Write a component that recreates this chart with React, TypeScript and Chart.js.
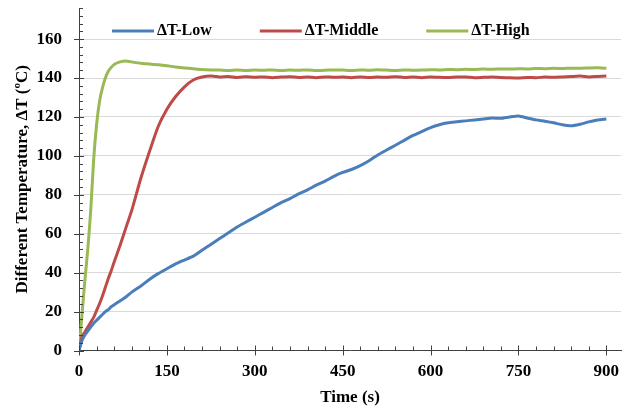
import { useEffect, useRef } from "react";
import { Chart, registerables } from "chart.js";

Chart.register(...registerables);

// ---- data ----
const TIMES = [
  0, 5, 10, 15, 20, 25, 30, 35, 40, 45, 50, 55, 60, 70, 80, 90,
  105, 120, 135, 150, 165, 180, 195, 210, 225, 240, 255, 270, 285, 300,
  315, 330, 345, 360, 375, 390, 405, 420, 435, 450, 465, 480, 495, 510,
  525, 540, 555, 570, 585, 600, 615, 630, 645, 660, 675, 690, 705, 720,
  735, 750, 765, 780, 795, 810, 825, 840, 855, 870, 885, 900,
];

const LOW = [
  0, 5, 8, 10, 12, 14, 15.5, 17, 18.5, 20, 21, 22.5, 23.5, 25.5, 27.5, 30,
  33, 36.5, 39.5, 42, 44.5, 46.5, 48.5, 51.5, 54.5, 57.5, 60.5, 63.5, 66, 68.5,
  71, 73.5, 76, 78, 80.5, 82.5, 85, 87, 89.5, 91.5, 93, 95, 97.5, 100.5,
  103, 105.5, 108, 110.5, 112.5, 114.5, 116, 117, 117.5, 118, 118.5, 119, 119.5, 119.3,
  120, 120.5, 119.5, 118.5, 117.8, 117, 116, 115.5, 116.3, 117.5, 118.5, 119,
];

const MIDDLE = [
  0, 7, 9.5, 12, 14.5, 17, 20.5, 24, 28, 32.5, 37, 41, 45.5, 54, 63, 72,
  88, 102, 115, 124, 130.5, 135.5, 139, 140.5, 141, 140.6, 140.8, 140.3, 140.7, 140.4,
  140.6, 140.2, 140.5, 140.7, 140.3, 140.5, 140.2, 140.6, 140.4, 140.5, 140.2, 140.6, 140.3, 140.5,
  140.4, 140.7, 140.3, 140.5, 140.2, 140.6, 140.4, 140.3, 140.6, 140.5, 140.2, 140.4, 140.6, 140.3,
  140.1, 140.0, 140.3, 140.2, 140.5, 140.4, 140.6, 140.8, 141, 140.6, 140.8, 141,
];

const HIGH = [
  0, 18, 36, 52, 72, 98, 116, 128, 135, 140, 143.5, 145.5, 147, 148.3, 148.8, 148.3,
  147.6, 147.2, 146.8, 146.3, 145.7, 145.2, 144.8, 144.4, 144.2, 144.1, 143.9, 144.2, 143.9, 144.1,
  144.0, 144.2, 143.9, 144.1, 144.0, 144.2, 143.9, 144.0, 144.2, 144.1, 143.9, 144.2, 144.0, 144.3,
  144.1, 143.9, 144.2, 144.0, 144.1, 144.3, 144.2, 144.4, 144.3, 144.5, 144.4, 144.6, 144.5, 144.7,
  144.6, 144.8, 144.7, 144.9, 144.8, 145.0, 144.9, 145.1, 145.0, 145.2, 145.3, 145.0,
];

const SERIES_LABELS = ["\u0394T-Low", "\u0394T-Middle", "\u0394T-High"];
const X_TICKS = [0, 150, 300, 450, 600, 750, 900];
const Y_TICKS = [0, 20, 40, 60, 80, 100, 120, 140, 160];
const X_TITLE = "Time (s)";
const Y_TITLE = "Different Temperature, \u0394T (\u00BAC)";

// ---- styles ----
const COLORS = ["#4a7ebb", "#be4b48", "#98b954"];
const FONT_FAMILY = "'Liberation Serif', 'Times New Roman', serif";
const AXIS_COLOR = "#404040";

const axisTicksPlugin = {
  id: "axisTicks",
  afterDatasetsDraw(chart: any) {
    const { ctx, chartArea, scales } = chart;
    const x = scales.x;
    const y = scales.y;
    ctx.save();
    ctx.strokeStyle = AXIS_COLOR;
    ctx.lineWidth = 1;
    ctx.beginPath();
    for (let v = 0; v <= x.max + 0.001; v += 30) {
      const px = Math.round(x.getPixelForValue(v)) + 0.5;
      const major = v % 150 === 0;
      ctx.moveTo(px, chartArea.bottom + (major ? 5 : 0));
      ctx.lineTo(px, chartArea.bottom - (major ? 5 : 4));
    }
    for (let v = 0; v <= y.max + 0.001; v += 4) {
      const py = Math.round(y.getPixelForValue(v)) + 0.5;
      const major = v % 20 === 0;
      ctx.moveTo(chartArea.left - (major ? 5 : 0), py);
      ctx.lineTo(chartArea.left + (major ? 5 : 4), py);
    }
    ctx.stroke();
    ctx.restore();
  },
};

const insideLegendPlugin = {
  id: "insideLegend",
  afterDraw(chart: any) {
    const { ctx, chartArea } = chart;
    ctx.save();
    ctx.font = `bold 16px ${FONT_FAMILY}`;
    ctx.textBaseline = "middle";
    ctx.textAlign = "left";
    const yMid = chartArea.top + 23;
    let cx = chartArea.left + 33;
    chart.data.datasets.forEach((ds: any) => {
      ctx.strokeStyle = ds.borderColor;
      ctx.lineWidth = 3;
      ctx.beginPath();
      ctx.moveTo(cx, yMid);
      ctx.lineTo(cx + 42, yMid);
      ctx.stroke();
      ctx.fillStyle = "#000";
      ctx.fillText(ds.label, cx + 45, yMid);
      cx += 45 + ctx.measureText(ds.label).width + 48;
    });
    ctx.restore();
  },
};

const zeroPadding = (s: any) => {
  s.paddingTop = 0;
  s.paddingBottom = 0;
  s.paddingLeft = 0;
  s.paddingRight = 0;
};

export default function App() {
  const canvasRef = useRef<HTMLCanvasElement | null>(null);

  useEffect(() => {
    document.body.style.margin = "0";
    const canvas = canvasRef.current;
    if (!canvas) return;
    const seriesValues = [LOW, MIDDLE, HIGH];
    const chart = new Chart(canvas, {
      type: "line",
      data: {
        datasets: seriesValues.map((vals, i) => ({
          label: SERIES_LABELS[i],
          data: TIMES.map((t, j) => ({ x: t, y: vals[j] })),
          borderColor: COLORS[i],
          backgroundColor: COLORS[i],
          borderWidth: 3,
          pointRadius: 0,
          tension: 0.2,
          fill: false,
        })),
      },
      options: {
        animation: false,
        responsive: true,
        maintainAspectRatio: false,
        layout: { padding: { top: 8, right: 2, bottom: 0, left: 0 } },
        plugins: {
          legend: { display: false },
          tooltip: { enabled: false },
        },
        scales: {
          x: {
            type: "linear",
            min: 0,
            max: 925,
            afterBuildTicks: (s: any) => {
              s.ticks = X_TICKS.map((v) => ({ value: v }));
            },
            afterFit: (s: any) => {
              s.height = 57.5;
              zeroPadding(s);
            },
            grid: { display: false, drawTicks: false },
            border: { display: true, color: AXIS_COLOR, width: 1 },
            ticks: {
              padding: 11,
              color: "#000",
              maxRotation: 0,
              autoSkip: false,
              font: { family: FONT_FAMILY, size: 17, weight: "bold" },
            },
            title: {
              display: true,
              text: X_TITLE,
              color: "#000",
              padding: { top: 0, bottom: 0 },
              font: { family: FONT_FAMILY, size: 17, weight: "bold" },
            },
          },
          y: {
            type: "linear",
            min: 0,
            max: 176,
            afterBuildTicks: (s: any) => {
              s.ticks = Y_TICKS.map((v) => ({ value: v }));
            },
            afterFit: (s: any) => {
              s.width = 79;
              zeroPadding(s);
            },
            grid: {
              drawTicks: false,
              color: (c: any) => (c.tick && c.tick.value === 0 ? "rgba(0,0,0,0)" : "#d9d9d9"),
              lineWidth: 1,
            },
            border: { display: true, color: AXIS_COLOR, width: 1 },
            ticks: {
              padding: 17,
              color: "#000",
              autoSkip: false,
              font: { family: FONT_FAMILY, size: 17, weight: "bold" },
            },
            title: {
              display: true,
              text: Y_TITLE,
              color: "#000",
              padding: { top: 12, bottom: 0 },
              font: { family: FONT_FAMILY, size: 17, weight: "bold" },
            },
          },
        },
      },
      plugins: [axisTicksPlugin, insideLegendPlugin],
    } as any);
    return () => chart.destroy();
  }, []);

  return (
    <div style={{ width: 623, height: 408, position: "relative" }}>
      <canvas ref={canvasRef} />
    </div>
  );
}
